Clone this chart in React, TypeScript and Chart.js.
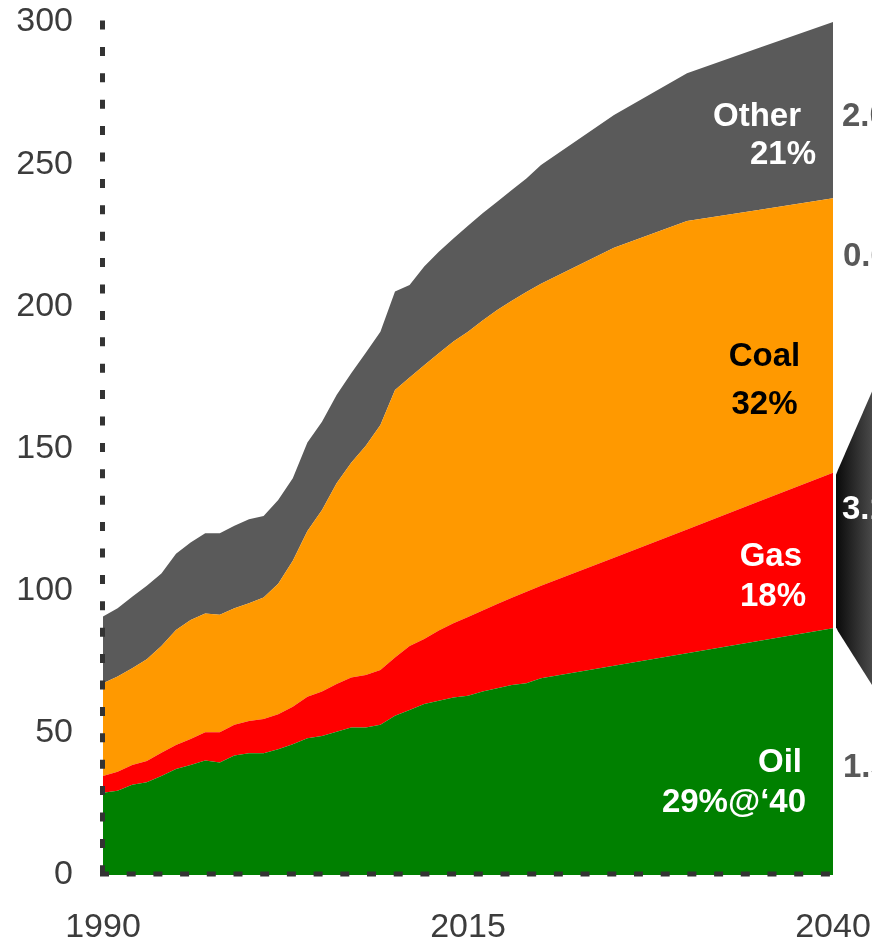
import React, { useEffect, useRef } from 'react';
import { Chart, registerables } from 'chart.js';

Chart.register(...registerables);

// ---- Data ----
const years = [
  1990, 1991, 1992, 1993, 1994, 1995, 1996, 1997, 1998, 1999,
  2000, 2001, 2002, 2003, 2004, 2005, 2006, 2007, 2008, 2009,
  2010, 2011, 2012, 2013, 2014, 2015, 2016, 2017, 2018, 2019,
  2020, 2025, 2030, 2035, 2040,
];
const oil = [
  28.9, 29.6, 31.7, 32.6, 34.8, 37.3, 38.7, 40.3, 39.6, 42.0,
  42.8, 42.8, 44.2, 46.0, 48.1, 48.9, 50.4, 51.9, 51.9, 52.8,
  56.0, 58.0, 60.1, 61.3, 62.4, 63.0, 64.5, 65.7, 66.8, 67.4,
  69.2, 73.6, 78.0, 82.4, 86.8,
];
const gas = [
  5.9, 6.7, 7.0, 7.5, 8.2, 8.4, 9.1, 9.9, 10.6, 10.8,
  11.4, 12.1, 12.3, 13.2, 14.6, 15.6, 16.8, 17.6, 18.4, 19.3,
  20.5, 22.5, 22.9, 24.7, 26.1, 27.7, 28.5, 29.6, 30.7, 32.2,
  32.5, 38.0, 43.5, 49.1, 54.7,
];
const coal = [
  32.6, 33.5, 34.0, 35.8, 37.5, 40.5, 41.9, 41.8, 41.3, 41.0,
  41.4, 42.7, 45.9, 51.3, 58.3, 63.9, 70.6, 75.5, 80.7, 86.2,
  94.1, 94.5, 96.3, 97.5, 99.1, 100.4, 102.0, 103.4, 104.5, 105.4,
  106.2, 109.0, 108.5, 102.5, 96.5,
];
const other = [
  23.5, 24.0, 25.2, 25.8, 25.5, 26.8, 27.2, 28.2, 28.7, 29.0,
  29.5, 28.7, 29.5, 29.0, 31.1, 31.0, 31.0, 31.5, 32.7, 32.8,
  34.6, 32.5, 34.7, 35.7, 36.3, 37.2, 37.7, 38.1, 38.9, 40.0,
  41.8, 46.7, 52.0, 57.0, 62.0,
];
const seriesNames = ['Oil', 'Gas', 'Coal', 'Other'];
const seriesColors = ['#008000', '#FF0000', '#FF9900', '#5A5A5A'];
const xTicks = [1990, 2015, 2040];
const yTicks = [0, 50, 100, 150, 200, 250, 300];

const FONT = "'Liberation Sans', Arial, sans-serif";
const TICK_COLOR = '#3c3c3c';
const AXIS_COLOR = '#333333';

const axesPlugin = {
  id: 'dottedAxes',
  afterDatasetsDraw(chart: any) {
    const { ctx, chartArea } = chart;
    ctx.save();
    ctx.strokeStyle = AXIS_COLOR;
    ctx.lineWidth = 5;
    ctx.lineCap = 'butt';
    // vertical axis
    ctx.setLineDash([9, 17.4]);
    ctx.beginPath();
    ctx.moveTo(chartArea.left - 0.5, chartArea.top - 1.5);
    ctx.lineTo(chartArea.left - 0.5, chartArea.bottom + 2);
    ctx.stroke();
    // horizontal axis
    ctx.setLineDash([9, 17.7]);
    ctx.beginPath();
    ctx.moveTo(chartArea.left - 3, chartArea.bottom - 1);
    ctx.lineTo(chartArea.right, chartArea.bottom - 1);
    ctx.stroke();
    ctx.restore();
  },
};

const labelPlugin = {
  id: 'areaLabels',
  afterDraw(chart: any) {
    const { ctx, chartArea, scales } = chart;
    const ys = scales.y;
    const right = chartArea.right;
    const last = years.length - 1;
    const oilTop = oil[last];
    const gasTop = oil[last] + gas[last];
    const yGasTop = ys.getPixelForValue(gasTop);
    const yOilTop = ys.getPixelForValue(oilTop);

    ctx.save();
    // callout shape next to the gas band
    const sl = right + 3;
    const ext = 44;
    const grad = ctx.createLinearGradient(sl, 0, sl + 40, 0);
    grad.addColorStop(0, '#0a0a0a');
    grad.addColorStop(1, '#505050');
    ctx.fillStyle = grad;
    ctx.beginPath();
    ctx.moveTo(sl, yGasTop + 2);
    ctx.lineTo(sl + 2, yGasTop - 3);
    ctx.lineTo(sl + ext, yGasTop - 3 - (ext - 2) * 2.3);
    ctx.lineTo(sl + ext, yOilTop + ext * 1.58);
    ctx.lineTo(sl + 2, yOilTop + 3);
    ctx.lineTo(sl, yOilTop - 1);
    ctx.closePath();
    ctx.fill();

    ctx.textBaseline = 'middle';
    ctx.font = `bold 33px ${FONT}`;
    const txt = (s: string, x: number, y: number, align: CanvasTextAlign, color: string) => {
      ctx.textAlign = align;
      ctx.fillStyle = color;
      ctx.fillText(s, x, y);
    };
    // labels inside the areas
    txt('Other', right - 32, 117, 'right', '#FFFFFF');
    txt('21%', right - 17, 155, 'right', '#FFFFFF');
    txt('Coal', right - 68.5, 357, 'center', '#000000');
    txt('32%', right - 68.5, 405, 'center', '#000000');
    txt('Gas', right - 31, 557, 'right', '#FFFFFF');
    txt('18%', right - 27, 597, 'right', '#FFFFFF');
    txt('Oil', right - 31, 763, 'right', '#FFFFFF');
    txt('29%@\u201840', right - 27, 803, 'right', '#FFFFFF');
    // growth labels on the right (partly off the page)
    txt('2.0%', right + 9, 117, 'left', '#595959');
    txt('0.6%', right + 10, 257, 'left', '#595959');
    txt('3.1%', right + 9, 510, 'left', '#FFFFFF');
    txt('1.5%', right + 10, 768, 'left', '#595959');
    ctx.restore();
  },
};

export default function App() {
  const ref = useRef<HTMLCanvasElement>(null);

  useEffect(() => {
    if (!ref.current) return;
    const seriesValues = [oil, gas, coal, other];
    const datasets = seriesValues.map((vals, si) => ({
      label: seriesNames[si],
      data: years.map((yr, i) => ({ x: yr, y: vals[i] })),
      backgroundColor: seriesColors[si],
      borderColor: seriesColors[si],
      borderWidth: 0,
      pointRadius: 0,
      tension: 0,
      fill: si === 0 ? 'origin' : '-1',
    }));

    const chart = new Chart(ref.current, {
      type: 'line',
      data: { datasets },
      options: {
        animation: false,
        responsive: false,
        maintainAspectRatio: false,
        layout: { padding: { left: 0, right: 39, top: 22, bottom: 0 }, autoPadding: false },
        plugins: { legend: { display: false }, tooltip: { enabled: false } },
        scales: {
          x: {
            type: 'linear',
            min: 1990,
            max: 2040,
            grid: { display: false, drawTicks: false },
            border: { display: false },
            afterBuildTicks: (s: any) => {
              s.ticks = xTicks.map((v) => ({ value: v }));
            },
            afterFit: (s: any) => {
              s.height = 67;
              s.paddingLeft = 0;
              s.paddingRight = 0;
            },
            ticks: {
              color: TICK_COLOR,
              font: { family: FONT, size: 34 },
              padding: 32,
              maxRotation: 0,
              autoSkip: false,
              callback: (v: any) => String(v),
            },
          },
          y: {
            stacked: true,
            min: 0,
            max: 300,
            grid: { display: false, drawTicks: false },
            border: { display: false },
            afterBuildTicks: (s: any) => {
              s.ticks = yTicks.map((v) => ({ value: v }));
            },
            afterFit: (s: any) => {
              s.width = 103;
              s.paddingTop = 0;
              s.paddingBottom = 0;
            },
            ticks: {
              color: TICK_COLOR,
              font: { family: FONT, size: 34 },
              padding: 30,
              autoSkip: false,
              callback: (v: any) => String(v),
            },
          },
        },
      },
      plugins: [axesPlugin, labelPlugin],
    } as any);
    return () => chart.destroy();
  }, []);

  return (
    <div style={{ position: 'absolute', left: 0, top: 0, width: 872, height: 942 }}>
      <canvas ref={ref} width={872} height={942} style={{ display: 'block' }} />
    </div>
  );
}
